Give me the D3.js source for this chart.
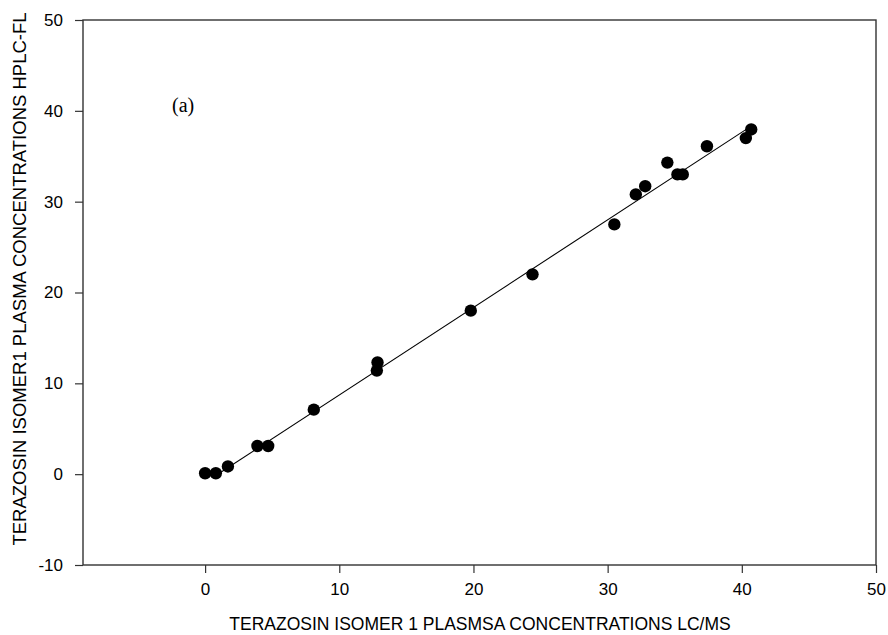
<!DOCTYPE html>
<html><head><meta charset="utf-8">
<script src="https://cdn.jsdelivr.net/npm/d3@7"></script>
<style>body{margin:0;background:#fff}</style>
</head><body>
<svg id="c" width="888" height="635"></svg>
<script>
const xTicks = [0,10,20,30,40,50];
const yTicks = [-10,0,10,20,30,40,50];
const lcms  = [0.0, 0.8, 1.7, 3.9, 4.7, 8.1, 12.8, 12.85, 19.8, 24.4, 30.5, 32.1, 32.8, 34.45, 35.2, 35.6, 37.4, 40.3, 40.7];
const hplc  = [0.1, 0.1, 0.85, 3.1, 3.1, 7.1, 11.4, 12.3, 18.0, 22.0, 27.5, 30.8, 31.7, 34.3, 33.0, 33.0, 36.1, 37.0, 37.95];
const fitX = [0.8, 40.5];
const fitSlope = 0.964, fitIntercept = -0.92;
const xTitle = "TERAZOSIN ISOMER 1 PLASMSA CONCENTRATIONS LC/MS";
const yTitle = "TERAZOSIN ISOMER1 PLASMA CONCENTRATIONS HPLC-FL";
const panel = "(a)";

const svg = d3.select("#c");
const L=83, R=876, T=20, B=565;
const x = d3.scaleLinear().domain([-9.1,50]).range([L,R]);
const y = d3.scaleLinear().domain([-10,50]).range([B,T]);
const axisCol = "#333";

// frame
svg.append("rect").attr("x",L).attr("y",T).attr("width",R-L).attr("height",B-T)
  .attr("fill","none").attr("stroke",axisCol).attr("stroke-width",1.4);

const fmt = d => String(d);
const gx = svg.append("g").attr("transform",`translate(0,${B})`)
  .call(d3.axisBottom(x).tickValues(xTicks).tickSize(8).tickPadding(10).tickFormat(fmt));
const gy = svg.append("g").attr("transform",`translate(${L},0)`)
  .call(d3.axisLeft(y).tickValues(yTicks).tickSize(8).tickPadding(12).tickFormat(fmt));
[gx,gy].forEach(g=>{
  g.select(".domain").remove();
  g.selectAll("line").attr("stroke",axisCol).attr("stroke-width",1.2);
  g.selectAll("text").attr("font-family","Liberation Sans, Arial, sans-serif").attr("font-size",17).attr("fill","#000");
});

// fit line
svg.append("line")
  .attr("x1",x(fitX[0])).attr("y1",y(fitSlope*fitX[0]+fitIntercept))
  .attr("x2",x(fitX[1])).attr("y2",y(fitSlope*fitX[1]+fitIntercept))
  .attr("stroke","#000").attr("stroke-width",1.1);

// points
svg.append("g").selectAll("circle").data(lcms.map((v,i)=>[v,hplc[i]])).join("circle")
  .attr("cx",d=>x(d[0])).attr("cy",d=>y(d[1])).attr("r",6.2).attr("fill","#000");

// titles
svg.append("text").attr("x",480).attr("y",630).attr("text-anchor","middle")
  .attr("font-family","Liberation Sans, Arial, sans-serif").attr("font-size",17.5).text(xTitle);
svg.append("text").attr("transform",`translate(26,279) rotate(-90)`).attr("text-anchor","middle")
  .attr("font-family","Liberation Sans, Arial, sans-serif").attr("font-size",18.5).text(yTitle);
svg.append("text").attr("x",172).attr("y",112)
  .attr("font-family","Liberation Serif, Times New Roman, serif").attr("font-size",20).text(panel);
</script>
</body></html>
